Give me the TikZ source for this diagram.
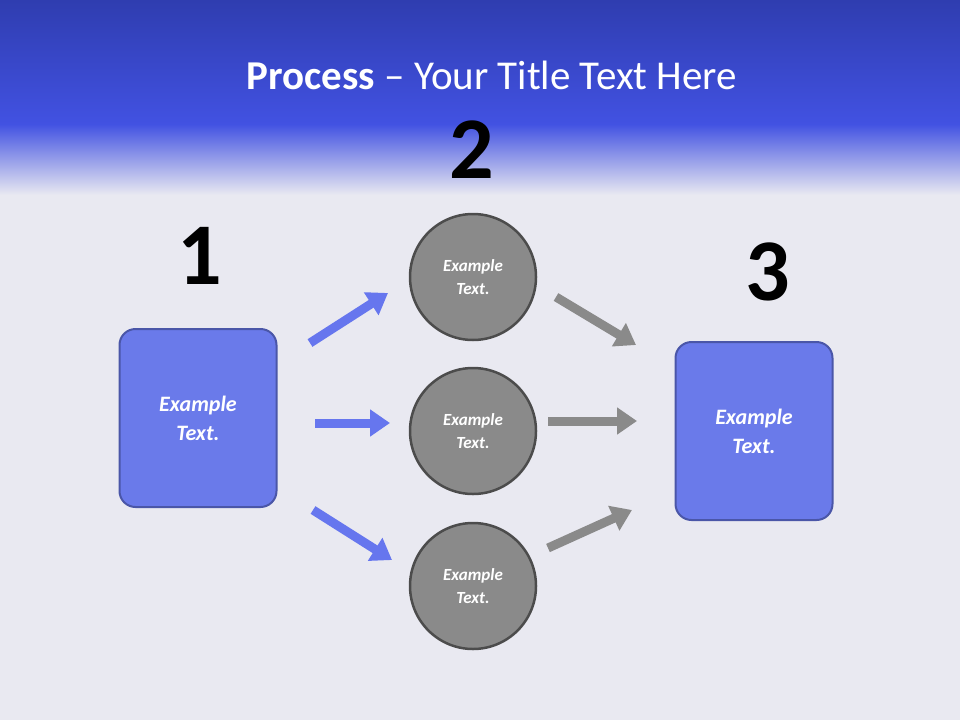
\documentclass[tikz,border=0pt]{standalone}
\usepackage{fontspec}
\setmainfont{Carlito}
\usetikzlibrary{arrows.meta}
\definecolor{hdtop}{HTML}{2F3DB0}
\definecolor{hdbot}{HTML}{4252E2}
\definecolor{bgcol}{HTML}{E9E9F1}
\definecolor{boxfill}{HTML}{6A7AEA}
\definecolor{boxline}{HTML}{4A56A8}
\definecolor{circfill}{HTML}{8A8A8A}
\definecolor{bluearr}{HTML}{6676EE}
\definecolor{grayarr}{HTML}{8A8A8A}
\begin{document}
\begin{tikzpicture}[x=1pt,y=-1pt,
    stepbox/.style={draw=boxline, line width=2pt, fill=boxfill, rounded corners=16pt,
      minimum width=157pt, minimum height=178pt, text=white,
      font=\fontsize{22}{29}\selectfont\bfseries\itshape, align=center},
    stepcirc/.style={circle, draw=black!70, line width=2.5pt, fill=circfill,
      minimum size=126pt, text=white,
      font=\fontsize{17}{23}\selectfont\bfseries\itshape, align=center},
    stepnum/.style={font=\fontsize{88}{90}\selectfont\bfseries},
    flowarr/.style={line width=9pt, -{Triangle[length=20pt,width=26pt]}}]

        % Background
        \fill[bgcol] (0,0) rectangle (960,720);
        \shade[top color=hdtop, bottom color=hdbot] (0,0) rectangle (960,125);
        \shade[top color=hdbot, bottom color=bgcol] (0,124) rectangle (960,195);
        \node[text=white, font=\fontsize{41}{46}\selectfont] (title) at (492,75)
          {\textbf{Process} -- Your Title Text Here};

        % Steps
        \node[stepbox] (left) at (198,418) {Example\\Text.};
        \node[stepbox] (right) at (754,431) {Example\\Text.};
        \node[stepcirc] (top) at (473,277) {Example\\Text.};
        \node[stepcirc] (mid) at (473,431) {Example\\Text.};
        \node[stepcirc] (bot) at (473,586) {Example\\Text.};

        % Numbers
        \node[stepnum] (one) at (200,256) {1};
        \node[stepnum] (two) at (472,150) {2};
        \node[stepnum] (three) at (768,272) {3};

        % Arrows
        \coordinate (a1) at (310,343); \coordinate (b1) at (388,293);
        \coordinate (a2) at (315,423); \coordinate (b2) at (390,423);
        \coordinate (a3) at (313,510); \coordinate (b3) at (392,560);
        \draw[flowarr, bluearr] (a1) -- (b1);
        \draw[flowarr, bluearr] (a2) -- (b2);
        \draw[flowarr, bluearr] (a3) -- (b3);
        \coordinate (c1) at (556,297); \coordinate (d1) at (636,345);
        \coordinate (c2) at (548,421); \coordinate (d2) at (637,421);
        \coordinate (c3) at (548,548); \coordinate (d3) at (632,510);
        \draw[flowarr, grayarr] (c1) -- (d1);
        \draw[flowarr, grayarr] (c2) -- (d2);
        \draw[flowarr, grayarr] (c3) -- (d3);
    \end{tikzpicture}
\end{document}
